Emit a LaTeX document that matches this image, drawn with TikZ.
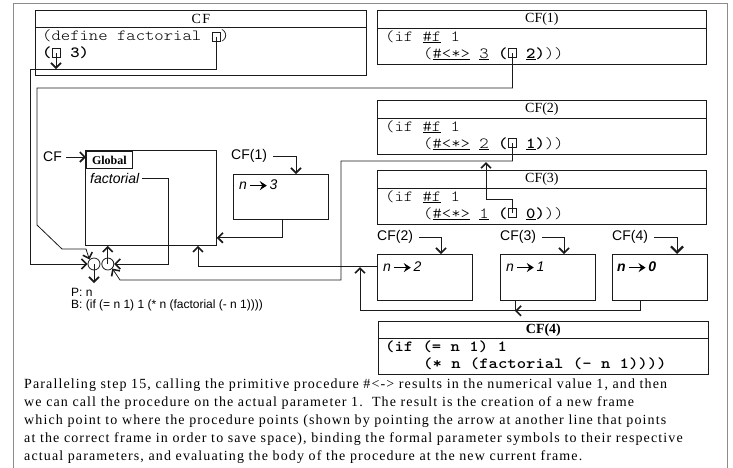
\documentclass[tikz,border=0pt]{standalone}
\usepackage{fontspec}
\setmainfont{Liberation Serif}
\setsansfont{Liberation Sans}
\newfontfamily\codefont{lmmonolt10-regular.otf}[BoldFont=lmmonolt10-bold.otf,FakeStretch=1.15]
\newfontfamily\notefont{Liberation Serif}[LetterSpace=8]
\usepackage{tikz}
\usetikzlibrary{arrows.meta,positioning,calc}
\definecolor{frameGray}{HTML}{8C8C8C}
\definecolor{inkBlack}{HTML}{1A1A1A}
\providecommand{\bindto}[1]{\textit{n}\,\tikz[baseline=-0.55ex]\draw[line width=0.9pt,-{Stealth[length=7pt,width=9pt,inset=2.5pt]}] (0pt,0pt) -- (17pt,0pt);\,\textit{#1}}

\begin{document}
\begin{tikzpicture}[
    x=1pt, y=-1pt,
    every node/.style={inner sep=0pt},
    framebox/.style={draw=inkBlack, line width=0.8pt, anchor=north west},
    titlerow/.style={framebox, font=\fontsize{14}{14}\selectfont},
    codeline/.style={anchor=base west, font=\codefont\fontsize{15.5}{15.5}\selectfont},
    lbl/.style={font=\sffamily\fontsize{14}{14}\selectfont},
    sqbox/.style={draw=inkBlack, line width=0.7pt, minimum width=8pt, minimum height=9pt},
    wire/.style={draw=inkBlack, line width=0.8pt},
    ptr/.style={wire, -{Straight Barb[length=5pt,width=10pt,line width=1.6pt]}}
  ]
  \useasboundingbox (0,0) rectangle (733,467);
  %% the sheet
  \draw[frameGray, line width=0.8pt] (13,470) -- (13,3) -- (727,3) -- (727,470);

  %% CF code box
  \node[framebox, minimum width=331pt, minimum height=65pt] (cf0) at (35,10) {};
  \node[titlerow, minimum width=331pt, minimum height=17pt] (cf0t) at (35,10) {C\kern1.5pt F};
  \node[codeline] (cf0a) at (42,40) {(define factorial\ \ )};
  \node[codeline] (cf0b) at (42,57) {\bfseries(\ \ 3)};
  \node[sqbox] (sqa) at (216,36.5) {};
  \node[sqbox] (sqb) at (56,53) {};

  %% CF(1) .. CF(3) code boxes
  \foreach \k/\j/\ytop [count=\i] in {3/2/10, 2/1/100, 1/0/170}{
    \node[framebox, minimum width=329pt, minimum height=53.5pt] (cfr\i) at (377,\ytop) {};
    \node[titlerow, minimum width=329pt, minimum height=18pt] (cfrt\i) at (377,\ytop) {CF(\i)};
    \node[codeline] (cfra\i) at (385,\ytop+31) {(if \underline{\#f} 1};
    \node[codeline] (cfrb\i) at (423,\ytop+48) {(\underline{\#<*>} \underline{\k} {\bfseries(\ \ \underline{\j})}))};
    \node[sqbox] (sq\i) at (512.5,\ytop+43) {};
  }

  %% global environment
  \node[framebox, minimum width=131pt, minimum height=95pt] (glob) at (85,150) {};
  \node[framebox, minimum width=46pt, minimum height=17pt, font=\bfseries\fontsize{12}{12}\selectfont] (globt) at (86,151) {Global};
  \node[lbl, anchor=west] (cfg) at (43,157) {CF};
  \draw[ptr] ([xshift=4pt]cfg.east) -- (globt.west |- cfg.east);
  \node[lbl, font=\sffamily\itshape\fontsize{14}{14}\selectfont, anchor=west] (fact) at (90,178) {factorial};

  %% procedure object
  \node[circle, draw=inkBlack, line width=0.8pt, minimum size=12pt] (lc) at (94,264) {};
  \node[circle, draw=inkBlack, line width=0.8pt, minimum size=12pt, right=1pt of lc] (rc) {};
  \node[lbl, font=\sffamily\fontsize{12}{12}\selectfont, anchor=west] (pn) at (71,292) {P: n};
  \node[lbl, font=\sffamily\fontsize{12}{12}\selectfont, anchor=west] (bn) at (71,305) {B: (if (= n 1) 1 (* n (factorial (- n 1))))};
  \coordinate (pnt) at (94,283);
  \draw[ptr] (lc.center) -- (pnt);
  \draw[ptr] (rc.center) -- (rc.center |- glob.south);
  \draw[ptr] ([xshift=3pt]fact.east) -| (168,264) -- (rc.east);

  %% frame of CF(1)
  \node[framebox, minimum width=95pt, minimum height=45pt] (fr1) at (233,174) {};
  \node[lbl, anchor=west] (fl1) at (231,156) {CF(1)};
  \node[lbl, anchor=west] (bd1) at (239,185) {\bindto{3}};
  \draw[ptr] ([xshift=6pt]fl1.east) -| ($(fr1.north west)+(63,0)$);
  \draw[ptr] ($(fr1.south west)+(49,0)$) |- ($(glob.south east)+(0,-8)$);

  %% frames of CF(2) .. CF(4)
  \foreach \n/\x/\v in {2/377/2, 3/500/1, 4/612/0}{
    \node[framebox, minimum width=95pt, minimum height=46pt] (frb\n) at (\x,254) {};
    \node[lbl, anchor=west] (flb\n) at (\x,237) {CF(\n)};
    \ifnum\n=4
      \node[lbl, anchor=west] (bdb\n) at (\x+5,267) {\bfseries\bindto{\v}};
      \draw[ptr, -{Straight Barb[length=6pt,width=12pt,line width=2.2pt]}] ([xshift=6pt]flb\n.east) -| ($(frb\n.north west)+(65,0)$);
    \else
      \node[lbl, anchor=west] (bdb\n) at (\x+6,267) {\bindto{\v}};
      \draw[ptr] ([xshift=6pt]flb\n.east) -| ($(frb\n.north west)+(64,0)$);
    \fi
  }
  \draw[ptr] ($(frb2.north west)+(0,12)$) -| ($(glob.south west)+(113,0)$);
  \coordinate (jn) at (360,267);
  \draw[ptr] ($(frb3.south west)+(15,0)$) |- (360,310) -- (jn);
  \draw[ptr] ($(frb4.south west)+(28,0)$) |- ($(frb3.south west)+(15,10)$);

  %% CF(4) code box
  \node[framebox, minimum width=330pt, minimum height=53pt] (cf4) at (378,321) {};
  \node[titlerow, minimum width=330pt, minimum height=17pt, font=\bfseries\fontsize{14}{14}\selectfont] (cf4t) at (378,321) {CF(4)};
  \node[codeline, font=\codefont\bfseries\fontsize{15.5}{15.5}\selectfont] (cf4a) at (385,351) {(if (= n 1) 1};
  \node[codeline, font=\codefont\bfseries\fontsize{15.5}{15.5}\selectfont] (cf4b) at (423,368) {(* n (factorial (- n 1))))};

  %% pointers out of the code
  \draw[ptr] (sqa.center) |- (30,69) |- (lc.west);
  \coordinate (hit) at (56,69);
  \draw[ptr] (sqb.center) -- (hit);
  \draw[ptr] (sq1.center) |- (37,88) -- (37,225) -- (62,249) -- (86,249) -- (lc.north west);
  \draw[ptr] (sq2.center) |- (341,161) |- (120,280) -- (rc.south east);
  \coordinate (j2) at (486,162);
  \draw[ptr] (sq3.center) |- (486,199) -- (j2);

  %% caption
  \node[anchor=north west, align=left, font=\notefont\fontsize{14}{17.8}\selectfont] (note) at (24,379) {Paralleling step 15, calling the primitive procedure \#<-> results in the numerical value 1, and then\\
    we can call the procedure on the actual parameter 1.\ \ The result is the creation of a new frame\\
    which point to where the procedure points (shown by pointing the arrow at another line that points\\
    at the correct frame in order to save space), binding the formal parameter symbols to their respective\\
    actual parameters, and evaluating the body of the procedure at the new current frame.};
\end{tikzpicture}
\end{document}
